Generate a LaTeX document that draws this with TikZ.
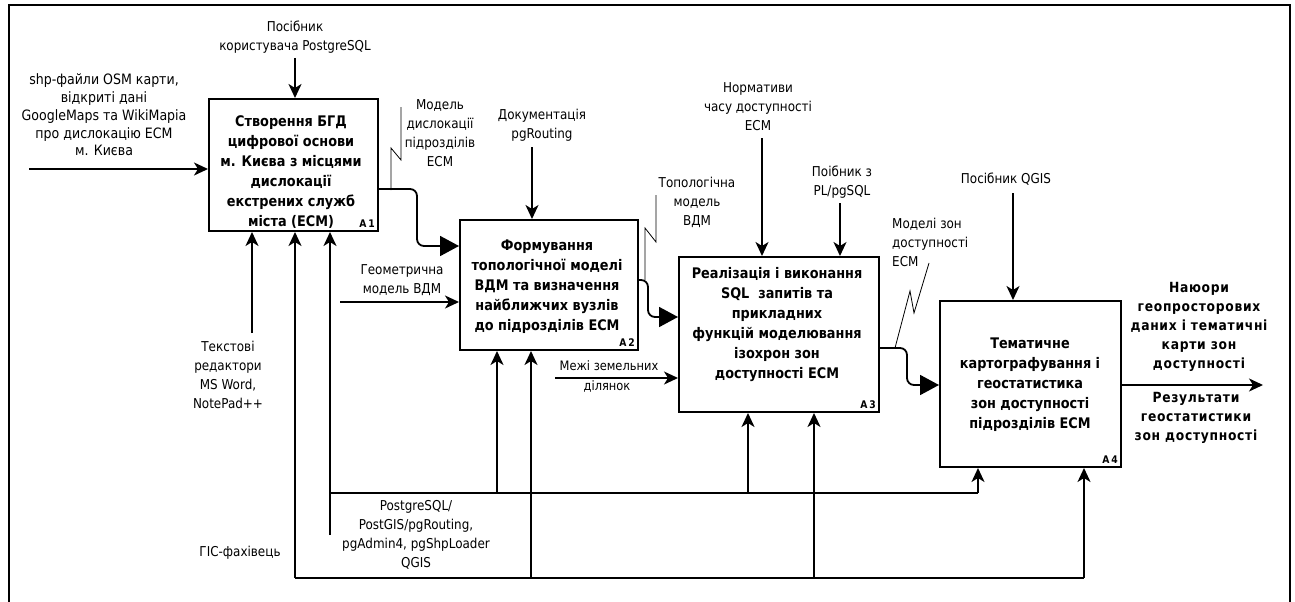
\documentclass[tikz,border=0pt]{standalone}
\usepackage{fontspec}
\setmainfont{DejaVu Sans}[FakeStretch=0.88]
\usetikzlibrary{arrows.meta,calc}

\tikzset{
  lbl/.style={align=center, font=\fontsize{13.6}{19}\selectfont, inner sep=0pt},
  boxtxt/.style={align=center, font=\bfseries\fontsize{14.6}{20}\selectfont, inner sep=0pt},
  outtxt/.style={align=center, font=\bfseries\fontsize{14}{19}\selectfont\addfontfeatures{LetterSpace=5}, inner sep=0pt},
  actbox/.style={draw, line width=2pt, inner sep=0pt},
  tag/.style={font=\bfseries\fontsize{10.5}{10}\selectfont, inner sep=0pt},
  arr/.style={line width=1.8pt, -{Stealth[length=14pt,width=13pt,inset=4pt]}},
  bigarr/.style={line width=1.8pt, rounded corners=7pt, -{Triangle[length=19pt,width=20pt]}},
  wire/.style={line width=1.8pt},
  squig/.style={line width=0.8pt},
}

\begin{document}
\begin{tikzpicture}[x=1pt,y=-1pt]
\useasboundingbox (0,0) rectangle (1295,602);

% outer frame
\draw[line width=2pt] (9,615) -- (9,5) -- (1290,5) -- (1290,615);

% activity boxes
\node[actbox, minimum width=169pt, minimum height=132pt] (a1) at (293.5,165) {};
\node[actbox, minimum width=178pt, minimum height=130pt] (a2) at (549,285) {};
\node[actbox, minimum width=200pt, minimum height=155pt] (a3) at (779,334.5) {};
\node[actbox, minimum width=181pt, minimum height=166pt] (a4) at (1030.5,384) {};

\node[boxtxt] (a1t) at (291,172.5) {Створення БГД\\цифрової основи\\м. Києва з місцями\\дислокації\\екстрених служб\\міста (ЕСМ)};
\node[boxtxt] (a2t) at (547,287) {Формування\\топологічної моделі\\ВДМ та визначення\\найближчих вузлів\\до підрозділів ЕСМ};
\node[boxtxt] (a3t) at (777,325) {Реалізація і виконання\\SQL\ \ запитів та\\прикладних\\функцій моделювання\\ізохрон зон\\доступності ЕСМ};
\node[boxtxt] (a4t) at (1030,385) {Тематичне\\картографування і\\геостатистика\\зон доступності\\підрозділів ЕСМ};

\node[tag, anchor=south east] (n1) at ($(a1.south east)+(-4,-4)$) {A\,1};
\node[tag, anchor=south east] (n2) at ($(a2.south east)+(-4,-4)$) {A\,2};
\node[tag, anchor=south east] (n3) at ($(a3.south east)+(-4,-4)$) {A\,3};
\node[tag, anchor=south east] (n4) at ($(a4.south east)+(-4,-4)$) {A\,4};

% inputs
\node[lbl, font=\fontsize{14.3}{17.8}\selectfont] (inl) at (104,115) {shp-файли OSM карти,\\відкриті дані\\GoogleMaps та WikiMapia\\про дислокацію ЕСМ\\м. Києва};
\coordinate (in1) at (29,169);
\draw[arr] (in1) -- (a1.west |- in1);

\node[lbl] (geol) at (402,280) {Геометрична\\модель ВДМ};
\coordinate (in2) at (340,302);
\draw[arr] (in2) -- (a2.west |- in2);

\node[lbl, font=\fontsize{13}{19}\selectfont] (mezl) at (609,366) {Межі земельних};
\node[lbl, font=\fontsize{13}{19}\selectfont] (mezl2) at (607,386) {ділянок};
\coordinate (in3) at (555,378);
\draw[arr] (in3) -- (a3.west |- in3);

% controls
\node[lbl] (c1l) at (295,37.5) {Посібник\\користувача PostgreSQL};
\coordinate (c1) at (295,58);
\draw[arr] (c1) -- (a1.north -| c1);

\node[lbl] (c2l) at (542,125.5) {Документація\\pgRouting};
\coordinate (c2) at (532,147);
\draw[arr] (c2) -- (a2.north -| c2);

\node[lbl] (c3l) at (758,107) {Нормативи\\часу доступності\\ЕСМ};
\coordinate (c3) at (762,138);
\draw[arr] (c3) -- (a3.north -| c3);

\node[lbl] (c4l) at (842,182.5) {Поібник з\\PL/pgSQL};
\coordinate (c4) at (840,203);
\draw[arr] (c4) -- (a3.north -| c4);

\node[lbl] (c5l) at (1006,179) {Посібник QGIS};
\coordinate (c5) at (1013,193);
\draw[arr] (c5) -- (a4.north -| c5);

% links between activities
\draw[bigarr] (a1.east |- 0,189) -- (417,189) -- (417,246) -- (a2.west |- 0,246);
\draw[bigarr] (a2.east |- 0,280) -- (648,280) -- (648,317) -- (a3.west |- 0,317);
\draw[bigarr] (a3.east |- 0,348) -- (907,348) -- (907,385) -- (a4.west |- 0,385);

\node[lbl] (l12) at (440,133) {Модель\\дислокації\\підрозділів\\ЕСМ};
\draw[squig] (391,190) -- (391,148) -- (401,160) -- (401,107);

\node[lbl] (l23) at (697,202) {Топологічна\\модель\\ВДМ};
\draw[squig] (645,280) -- (645,228) -- (656,242) -- (656,195);

\node[lbl, align=left, anchor=west] (l34) at (892,242) {Моделі зон\\доступності\\ЕСМ};
\draw[squig] (895,348) -- (910,291) -- (914,313) -- (929,263);

% output
\coordinate (out) at (1263,385);
\draw[arr] (a4.east |- out) -- (out);
\node[outtxt] (o1) at (1199,326.5) {Наюори\\геопросторових\\даних і тематичні\\карти зон\\доступності};
\node[outtxt] (o2) at (1196,418) {Результати\\геостатистики\\зон доступності};

% mechanisms
\node[lbl] (m1l) at (228,375) {Текстові\\редактори\\MS Word,\\NotePad++};
\coordinate (m1) at (252,333);
\draw[arr] (m1) -- (a1.south -| m1);

\node[lbl] (pl) at (240,553) {ГІС-фахівець};
\coordinate (pL) at (295,578);
\coordinate (pR) at (1084,578);
\draw[wire] (pL) -- (pR);
\draw[arr] (pL) -- (a1.south -| pL);
\draw[arr] (531,578) -- (a2.south -| 531,0);
\draw[arr] (814,578) -- (a3.south -| 814,0);
\draw[arr] (pR) -- (a4.south -| pR);

\node[lbl] (tl) at (416,535) {PostgreSQL/\\PostGIS/pgRouting,\\pgAdmin4, pgShpLoader\\QGIS};
\coordinate (tL) at (330,535);
\coordinate (tJ) at (330,493);
\coordinate (tR) at (978,493);
\draw[arr] (tL) -- (a1.south -| tL);
\draw[wire] (tJ) -- (tR);
\draw[arr] (497,493) -- (a2.south -| 497,0);
\draw[arr] (748,493) -- (a3.south -| 748,0);
\draw[arr] (tR) -- (a4.south -| tR);
\end{tikzpicture}
\end{document}
